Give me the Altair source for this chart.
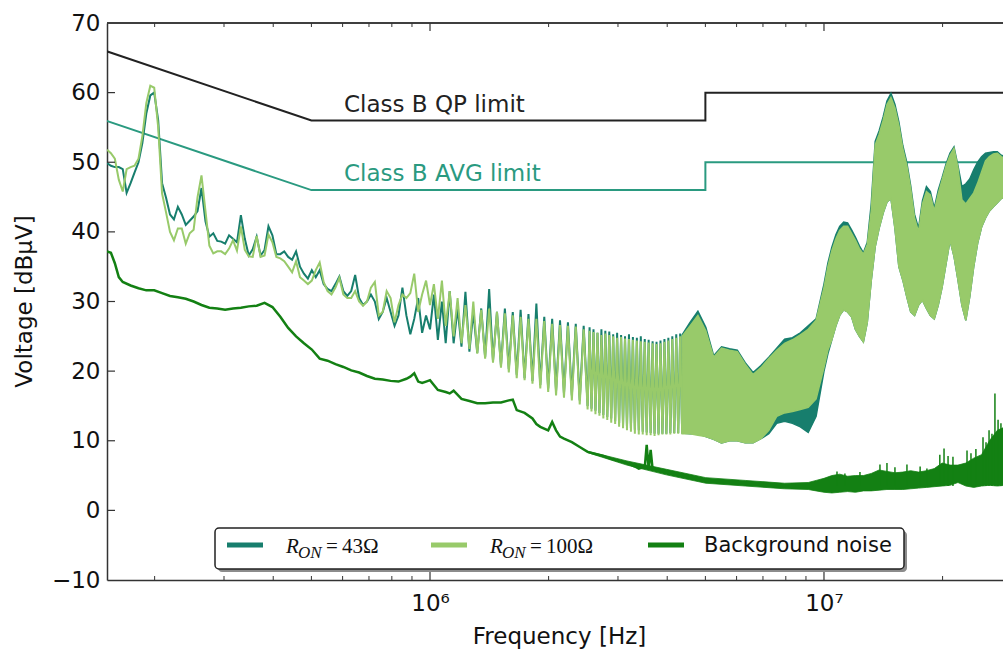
import altair as alt
import pandas as pd

# ---------------- data (frequencies in MHz, levels in dBuV) ----------------
# 0.15 .. 1 MHz
freq_lo = [0.1514, 0.1549, 0.1585, 0.1622, 0.1660, 0.1698, 0.1738, 0.1778, 0.1820, 0.1862,
           0.1905, 0.1950, 0.1995, 0.2042, 0.2089, 0.2138, 0.2188, 0.2239, 0.2291, 0.2344,
           0.2399, 0.2455, 0.2512, 0.2570, 0.2630, 0.2692, 0.2754, 0.2818, 0.2884, 0.2951,
           0.3020, 0.3090, 0.3162, 0.3236, 0.3311, 0.3388, 0.3467, 0.3548, 0.3631, 0.3715,
           0.3802, 0.3890, 0.3981, 0.4074, 0.4169, 0.4266, 0.4365, 0.4467, 0.4571, 0.4677,
           0.4786, 0.4898, 0.5012, 0.5129, 0.5248, 0.5370, 0.5495, 0.5623, 0.5754, 0.5888,
           0.6026, 0.6166, 0.6310, 0.6457, 0.6607, 0.6761, 0.6918, 0.7079, 0.7244, 0.7413,
           0.7586, 0.7762, 0.7943, 0.8128, 0.8318, 0.8511, 0.8710, 0.8913, 0.9120, 0.9333,
           0.9550, 0.9772, 1.000]
r43_lo = [49.9, 49.5, 49.3, 49.3, 49.0, 45.6, 47.0, 48.5, 50.0, 52.8,
          57.0, 59.6, 60.0, 56.0, 47.0, 44.9, 42.5, 41.8, 43.6, 42.5,
          41.0, 41.6, 42.2, 43.0, 46.3, 41.5, 39.3, 39.8, 38.7, 38.6,
          38.3, 39.5, 39.0, 38.5, 42.4, 39.0, 36.6, 37.5, 39.3, 36.6,
          37.4, 40.8, 39.5, 36.8, 36.8, 37.2, 36.4, 36.0, 37.2, 35.0,
          34.0, 33.3, 34.5, 33.5, 34.5, 32.5, 31.8, 31.5, 32.5, 33.6,
          31.5, 30.8, 31.5, 33.8, 30.5, 29.5, 30.0, 31.0, 30.0, 27.5,
          28.5, 30.5, 28.5, 26.5, 28.0, 32.0, 28.0, 25.3, 27.5, 30.5,
          25.5, 28.0, 26.0]
r100_lo = [51.8, 51.3, 50.5, 47.5, 45.8, 49.0, 49.3, 49.5, 50.5, 53.8,
           58.5, 61.0, 60.7, 55.0, 45.5, 42.8, 40.0, 38.8, 40.5, 40.5,
           38.3, 39.8, 40.3, 45.0, 48.1, 43.0, 38.0, 36.9, 37.2, 37.2,
           36.8, 37.6, 38.8, 37.3, 40.8, 37.4, 36.5, 36.4, 39.4, 36.4,
           36.6, 39.6, 38.5, 36.4, 36.2, 35.8, 35.0, 34.2, 35.8, 33.5,
           33.0, 32.5, 33.0, 34.5, 35.6, 32.8, 31.5, 31.0, 32.0, 33.4,
           31.0, 30.5, 30.5, 31.5, 30.0, 29.4, 30.0, 32.0, 32.8, 28.0,
           28.5, 31.5, 30.5, 27.0, 29.5, 31.0, 30.5, 31.2, 34.0, 28.5,
           31.0, 33.0, 29.5]

# 1 .. 4.4 MHz : oscillating part (peaks and troughs)
freq_osc = [1.023, 1.047, 1.072, 1.096, 1.122, 1.148, 1.175, 1.202, 1.230, 1.259,
            1.288, 1.318, 1.349, 1.380, 1.413, 1.445, 1.479, 1.514, 1.549, 1.585,
            1.622, 1.660, 1.698, 1.738, 1.778, 1.820, 1.862, 1.905, 1.950, 1.995,
            2.042, 2.089, 2.138, 2.188, 2.239, 2.291, 2.344, 2.399, 2.455, 2.512,
            2.541, 2.570, 2.600, 2.630, 2.661, 2.692, 2.723, 2.754, 2.786, 2.818,
            2.851, 2.884, 2.917, 2.951, 2.985, 3.020, 3.055, 3.090, 3.126, 3.162,
            3.199, 3.236, 3.273, 3.311, 3.350, 3.388, 3.428, 3.467, 3.508, 3.548,
            3.589, 3.631, 3.673, 3.715, 3.758, 3.802, 3.846, 3.890, 3.936, 3.981,
            4.027, 4.074, 4.121, 4.169, 4.217, 4.266, 4.315, 4.365]
r43_osc = [31.0, 24.5, 30.0, 24.0, 31.5, 24.0, 29.0, 23.5, 31.4, 22.8,
           28.5, 22.6, 29.0, 22.0, 31.8, 21.5, 28.5, 20.8, 29.0, 20.3,
           28.5, 19.5, 28.8, 19.0, 28.2, 18.6, 29.7, 18.0, 27.8, 17.5,
           27.5, 17.2, 27.3, 16.8, 27.0, 16.5, 26.8, 15.8, 26.5, 15.0,
           26.3, 14.6, 26.0, 14.3, 25.5, 14.0, 26.0, 13.7, 25.8, 13.4,
           25.7, 13.2, 25.3, 12.8, 25.5, 12.5, 25.2, 12.3, 25.0, 12.0,
           25.3, 11.8, 24.9, 11.6, 24.8, 11.5, 25.0, 11.3, 24.6, 11.2,
           24.5, 11.1, 24.3, 11.0, 24.2, 11.0, 24.4, 11.0, 24.6, 11.0,
           24.8, 11.1, 25.0, 11.1, 25.3, 11.1, 25.4, 11.1]
r100_osc = [32.5, 27.5, 33.0, 26.5, 31.5, 25.0, 30.5, 24.0, 29.5, 23.2,
            30.0, 22.5, 28.8, 21.8, 29.0, 21.2, 28.5, 20.5, 28.3, 19.8,
            28.0, 19.0, 27.8, 18.7, 27.5, 18.2, 27.5, 17.5, 27.2, 17.0,
            26.8, 16.5, 26.6, 16.2, 26.5, 15.8, 26.4, 15.2, 26.0, 14.5,
            25.8, 14.2, 25.6, 13.8, 25.5, 13.6, 25.2, 13.2, 25.4, 13.0,
            25.2, 12.6, 25.0, 12.4, 24.8, 12.0, 24.9, 11.8, 24.7, 11.5,
            24.6, 11.3, 24.5, 11.0, 24.4, 10.9, 24.3, 10.9, 24.2, 10.8,
            24.1, 10.8, 24.0, 10.7, 23.9, 10.8, 24.0, 10.9, 24.2, 10.9,
            24.4, 10.9, 24.6, 11.0, 24.8, 11.0, 25.0, 11.0]

# 4.4 .. 29 MHz : dense part, upper and lower envelope
freq_env = [4.365, 4.571, 4.786, 5.012, 5.248, 5.495, 5.754, 6.026, 6.310, 6.607,
            6.918, 7.244, 7.586, 7.943, 8.318, 8.710, 9.120, 9.550,
            10.00, 10.23, 10.47, 10.72, 10.96, 11.22, 11.48, 11.75, 12.02, 12.30,
            12.59, 12.88, 13.18, 13.49, 13.80, 14.13, 14.45, 14.79, 15.14, 15.49,
            15.85, 16.22, 16.60, 16.98, 17.38, 17.78, 18.20, 18.62, 19.05, 19.50,
            19.95, 20.42, 20.89, 21.38, 21.88, 22.39, 22.91, 23.44, 23.99, 24.55,
            25.12, 25.70, 26.30, 26.92, 27.54, 28.18, 28.84]
r43_hi = [25.2, 27.0, 28.6, 26.3, 22.2, 23.5, 23.2, 23.0, 21.2, 19.8,
          20.8, 22.0, 23.3, 24.6, 24.8, 25.5, 26.5, 27.5,
          32.5, 35.5, 37.8, 39.6, 40.8, 41.4, 41.3, 40.3, 39.2, 38.0,
          37.0, 38.5, 44.0, 53.0, 54.5, 56.5, 58.8, 59.9, 58.3, 55.8,
          52.4, 50.0, 46.6, 42.5, 40.5, 44.5, 46.5, 45.8, 43.4, 46.0,
          47.8, 49.8, 51.3, 52.2, 49.5, 46.5, 46.9, 47.6, 48.9, 50.0,
          50.8, 51.3, 51.4, 51.5, 51.5, 51.0, 50.8]
r43_lo_env = [11.1, 11.0, 11.0, 10.6, 10.2, 9.7, 10.0, 10.0, 9.7, 9.7,
              10.3, 11.0, 12.5, 12.8, 12.5, 12.0, 11.2, 13.5,
              20.0, 22.5, 24.5, 26.5, 28.0, 28.8, 28.5, 27.8, 26.0, 25.0,
              24.2, 27.0, 33.0, 37.9, 40.5, 42.7, 44.3, 44.8, 40.5, 35.0,
              33.1, 30.7, 28.5, 28.0, 29.5, 30.2, 29.0, 28.0, 27.5, 29.5,
              32.1, 35.5, 38.8, 36.5, 33.1, 29.5, 27.3, 30.7, 35.0, 38.4,
              40.7, 42.0, 43.0, 43.6, 44.2, 44.8, 45.0]
r100_hi = [25.0, 26.5, 28.0, 25.8, 22.0, 23.3, 23.0, 22.8, 21.0, 19.5,
           20.5, 21.8, 23.0, 24.0, 24.5, 25.2, 26.0, 27.3,
           32.0, 35.0, 37.3, 39.0, 40.2, 40.8, 40.8, 39.8, 38.8, 37.6,
           36.8, 38.2, 43.0, 52.5, 54.0, 56.0, 58.3, 59.3, 57.8, 55.3,
           52.0, 49.6, 46.2, 42.0, 40.0, 44.0, 45.8, 45.3, 43.0, 45.5,
           47.5, 49.5, 51.0, 52.0, 49.2, 44.6, 44.0, 44.8, 45.6, 47.0,
           48.6, 50.2, 50.8, 51.2, 51.3, 50.8, 50.5]
r100_lo_env = [11.0, 11.0, 10.8, 10.6, 10.2, 9.7, 10.0, 10.0, 9.7, 9.7,
               10.3, 11.5, 13.5, 14.0, 14.2, 14.5, 14.8, 16.0,
               20.5, 23.0, 24.5, 26.5, 28.0, 28.8, 28.5, 27.8, 26.0, 25.0,
               24.2, 27.0, 33.0, 37.9, 40.5, 42.7, 44.3, 44.8, 40.5, 35.0,
               33.1, 30.7, 28.5, 28.0, 29.5, 30.2, 29.0, 28.0, 27.5, 29.5,
               32.1, 35.5, 38.8, 36.5, 33.1, 29.5, 27.3, 30.7, 35.0, 38.4,
               40.7, 42.0, 43.0, 43.6, 44.2, 44.8, 45.0]

# background noise
bg_freq = [0.1514, 0.1549, 0.1585, 0.1622, 0.1660, 0.1738, 0.1820, 0.1905, 0.1995, 0.2089,
           0.2188, 0.2291, 0.2399, 0.2512, 0.2630, 0.2754, 0.2884, 0.3020, 0.3162, 0.3311,
           0.3467, 0.3631, 0.3802, 0.3981, 0.4169, 0.4365, 0.4571, 0.4786, 0.5012, 0.5248,
           0.5495, 0.5754, 0.6026, 0.6310, 0.6607, 0.6918, 0.7244, 0.7586, 0.7943, 0.8318,
           0.8710, 0.8913, 0.9120, 0.9333, 0.9550, 0.9772, 1.000, 1.047, 1.096, 1.122,
           1.148, 1.202, 1.259, 1.318, 1.380, 1.445, 1.514, 1.585, 1.622, 1.660,
           1.738, 1.820, 1.862, 1.905, 1.995, 2.042, 2.089, 2.138, 2.188, 2.291,
           2.399, 2.512, 2.630, 2.754, 2.884, 3.020, 3.162, 3.311, 3.388, 3.467,
           3.508, 3.548, 3.589, 3.631, 3.673, 3.802, 3.981, 4.169, 4.365, 4.571,
           4.786, 5.012, 5.248, 5.495, 5.754, 6.026, 6.310, 6.607, 6.918, 7.244,
           7.586, 7.943, 8.318, 8.710, 9.120]
bg_db = [37.2, 37.0, 35.5, 33.5, 32.8, 32.3, 31.9, 31.6, 31.6, 31.2,
         30.8, 30.6, 30.4, 30.0, 29.5, 29.1, 29.0, 28.8, 29.0, 29.1,
         29.3, 29.4, 29.8, 29.2, 27.8, 26.2, 25.0, 24.0, 23.1, 21.8,
         21.5, 21.0, 20.6, 20.1, 19.8, 19.3, 18.9, 18.8, 18.6, 18.5,
         18.9, 19.2, 19.7, 18.5, 18.3, 18.5, 18.7, 17.3, 17.0, 16.8,
         17.2, 16.0, 15.7, 15.4, 15.4, 15.5, 15.5, 15.8, 15.9, 14.4,
         14.0, 13.2, 12.4, 12.0, 11.5, 12.7, 11.5, 10.6, 10.3, 9.8,
         9.1, 8.4, 8.1, 7.8, 7.4, 7.1, 6.8, 6.3, 6.0, 6.2,
         6.1, 9.4, 6.0, 8.7, 5.9, 5.8, 5.5, 5.3, 5.1, 4.9,
         4.6, 4.3, 4.1, 4.1, 4.1, 4.0, 3.9, 3.9, 3.8, 3.7,
         3.6, 3.5, 3.4, 3.4, 3.4]
# noisy thickness of the background trace (lower / upper edge)
bg_env_freq = [2.512, 3.162, 3.981, 5.012, 6.310, 7.943,
               9.120, 9.550, 10.00, 10.47, 10.96, 11.48, 12.02, 12.59, 13.18, 13.80,
               14.45, 15.14, 15.85, 16.60, 17.38, 18.20, 19.05, 19.95, 20.89, 21.88,
               22.91, 23.99, 25.12, 26.30, 27.54, 28.84]
bg_env_lo = [8.3, 6.5, 5.1, 3.9, 3.5, 3.1,
             3.0, 2.8, 2.6, 2.5, 2.6, 2.7, 2.6, 2.8, 2.8, 2.9,
             3.0, 3.0, 3.0, 3.1, 3.2, 3.3, 3.4, 3.5, 3.6, 4.0,
             3.5, 3.3, 3.5, 3.6, 3.5, 3.6]
bg_env_hi = [8.5, 7.1, 5.9, 4.7, 4.3, 3.9,
             4.0, 4.3, 4.6, 5.0, 5.2, 4.9, 5.0, 5.0, 5.3, 5.8,
             5.6, 5.4, 5.5, 5.7, 5.5, 5.7, 6.0, 6.8, 6.5, 6.5,
             6.8, 7.5, 8.0, 10.0, 11.5, 12.0]
spike_freq = [10.79, 11.30, 12.34, 13.87, 14.45, 15.14, 16.24, 17.54, 18.25, 19.68,
              20.17, 20.65, 21.25, 23.07, 23.61, 24.30, 25.33, 25.78, 26.24, 26.69,
              27.16, 27.66, 28.13]
spike_top = [5.6, 5.3, 5.5, 6.6, 6.8, 6.2, 6.6, 6.3, 6.0, 8.0,
             8.9, 7.8, 7.7, 8.6, 8.2, 8.8, 10.5, 9.8, 11.5, 11.0,
             16.8, 13.0, 12.5]
spike_base = [3.5] * len(spike_freq)

# CISPR 22 class B limits
lim_freq = [0.15, 0.5, 5.0, 5.0, 30.0]
qp_limit = [66, 56, 56, 60, 60]
avg_limit = [56, 46, 46, 50, 50]

y_ticks = [-10, 0, 10, 20, 30, 40, 50, 60, 70]
x_major = [1e6, 1e7]
x_minor = [2e5, 3e5, 4e5, 5e5, 6e5, 7e5, 8e5, 9e5,
           2e6, 3e6, 4e6, 5e6, 6e6, 7e6, 8e6, 9e6, 2e7]

for a, b in [(freq_lo, r43_lo), (freq_lo, r100_lo), (freq_osc, r43_osc), (freq_osc, r100_osc),
             (freq_env, r43_hi), (freq_env, r43_lo_env), (freq_env, r100_hi), (freq_env, r100_lo_env),
             (bg_freq, bg_db), (bg_env_freq, bg_env_lo), (bg_env_freq, bg_env_hi), (spike_freq, spike_top)]:
    assert len(a) == len(b), (len(a), len(b))

# ---------------- styling ----------------
C43 = "#177e6d"
C100 = "#98ca6a"
CBG = "#138013"
CAVG = "#2a9a80"
CQP = "#222222"
AX = "#333333"
FONT = "DejaVu Sans"
W, H = 896, 557

xs = alt.Scale(type="log", domain=[151400, 28470000], nice=False)
ys = alt.Scale(domain=[-10, 70], nice=False, zero=False)
xaxis = alt.Axis(values=x_major, labelExpr="datum.value < 5000000 ? '10\u2076' : '10\u2077'",
                 tickSize=0, labelPadding=12, labelFontSize=23, labelBaseline="top",
                 domainColor=AX, domainWidth=1.5, grid=False,
                 title="Frequency [Hz]", titleFontSize=23, titleFontWeight="normal",
                 titleX=452, titleY=63, titleBaseline="alphabetic", titleAlign="center")
yaxis = alt.Axis(values=y_ticks,
                 labelExpr="datum.value < 0 ? '\u2212' + (-datum.value) : '' + datum.value",
                 tickSize=0, labelPadding=7, labelFontSize=23, labelBaseline="middle",
                 domainColor=AX, domainWidth=1.5, grid=False,
                 title="Voltage [dB\u03bcV]", titleFontSize=23, titleFontWeight="normal",
                 titleAngle=270, titleX=-76, titleY=278, titleBaseline="alphabetic",
                 titleAlign="center")


def X(field="f"):
    return alt.X(f"{field}:Q", scale=xs, axis=xaxis)


def Y(field="v"):
    return alt.Y(f"{field}:Q", scale=ys, axis=yaxis)


def hz(lst):
    return [v * 1e6 for v in lst]


main43 = pd.DataFrame({"f": hz(freq_lo + freq_osc), "v": r43_lo + r43_osc})
main100 = pd.DataFrame({"f": hz(freq_lo + freq_osc), "v": r100_lo + r100_osc})
main43["i"] = range(len(main43))
main100["i"] = range(len(main100))
env43 = pd.DataFrame({"f": hz(freq_env), "hi": r43_hi, "lo": r43_lo_env})
env100 = pd.DataFrame({"f": hz(freq_env), "hi": r100_hi, "lo": r100_lo_env})
bg = pd.DataFrame({"f": hz(bg_freq), "v": bg_db})
bgenv = pd.DataFrame({"f": hz(bg_env_freq), "hi": bg_env_hi, "lo": bg_env_lo})
spikes = pd.DataFrame({"f": hz(spike_freq), "hi": spike_top, "lo": spike_base})
lim = pd.DataFrame({"f": hz(lim_freq), "qp": qp_limit, "avg": avg_limit, "i": range(len(lim_freq))})

layers = []
# limit lines (underneath)
layers.append(alt.Chart(lim).mark_line(color=CQP, strokeWidth=2, clip=True)
              .encode(x=X(), y=Y("qp"), order="i:Q"))
layers.append(alt.Chart(lim).mark_line(color=CAVG, strokeWidth=2, clip=True)
              .encode(x=X(), y=Y("avg"), order="i:Q"))
# R_ON = 43 ohm
layers.append(alt.Chart(env43).mark_area(color=C43, stroke=C43, strokeWidth=1.5, clip=True)
              .encode(x=X(), y=Y("hi"), y2=alt.Y2("lo")))
layers.append(alt.Chart(main43).mark_line(color=C43, strokeWidth=2, clip=True)
              .encode(x=X(), y=Y(), order="i:Q"))
# R_ON = 100 ohm
layers.append(alt.Chart(env100).mark_area(color=C100, stroke=C100, strokeWidth=1.5, clip=True)
              .encode(x=X(), y=Y("hi"), y2=alt.Y2("lo")))
layers.append(alt.Chart(main100).mark_line(color=C100, strokeWidth=2, clip=True)
              .encode(x=X(), y=Y(), order="i:Q"))
# background noise
layers.append(alt.Chart(bg).mark_line(color=CBG, strokeWidth=2.5, clip=True)
              .encode(x=X(), y=Y()))
layers.append(alt.Chart(bgenv).mark_area(color=CBG, stroke=CBG, strokeWidth=0.8, clip=True)
              .encode(x=X(), y=Y("hi"), y2=alt.Y2("lo")))
layers.append(alt.Chart(spikes).mark_rule(color=CBG, strokeWidth=1.5, clip=True)
              .encode(x=X(), y=Y("hi"), y2=alt.Y2("lo")))

# limit annotations
lab = pd.DataFrame({"f": [0.605e6, 0.605e6], "v": [57.2, 47.3],
                    "t": ["Class B QP limit", "Class B AVG limit"], "c": [CQP, CAVG]})
layers.append(alt.Chart(lab).mark_text(align="left", baseline="alphabetic", font=FONT, fontSize=23)
              .encode(x=X(), y=Y(), text="t:N", color=alt.Color("c:N", scale=None)))

# inward ticks + top frame
xmaj = pd.DataFrame({"f": x_major})
xmin = pd.DataFrame({"f": x_minor})
yt = pd.DataFrame({"v": y_ticks[1:-1]})
layers.append(alt.Chart(xmaj).mark_rule(color=AX, strokeWidth=1.2)
              .encode(x=X(), y=alt.value(H), y2=alt.value(H - 8)))
layers.append(alt.Chart(xmaj).mark_rule(color=AX, strokeWidth=1.2)
              .encode(x=X(), y=alt.value(0), y2=alt.value(8)))
layers.append(alt.Chart(xmin).mark_rule(color=AX, strokeWidth=1)
              .encode(x=X(), y=alt.value(H), y2=alt.value(H - 4)))
layers.append(alt.Chart(xmin).mark_rule(color=AX, strokeWidth=1)
              .encode(x=X(), y=alt.value(0), y2=alt.value(4)))
layers.append(alt.Chart(yt).mark_rule(color=AX, strokeWidth=1.2)
              .encode(y=Y(), x=alt.value(0), x2=alt.value(8)))
layers.append(alt.Chart(xmaj).mark_rule(color=AX, strokeWidth=1.5)
              .encode(x=alt.value(0), x2=alt.value(W), y=alt.value(0)))

# legend (drawn by hand to get the math-style labels)
one = alt.Data(values=[{"k": 1}])
layers.append(alt.Chart(one).mark_rect(color="#000", opacity=0.45, cornerRadius=4)
              .encode(x=alt.value(111), x2=alt.value(800), y=alt.value(508), y2=alt.value(549)))
layers.append(alt.Chart(one).mark_rect(fill="white", stroke="#222", strokeWidth=1.5, cornerRadius=4)
              .encode(x=alt.value(108), x2=alt.value(797), y=alt.value(505), y2=alt.value(546)))
for x0, col in [(120, C43), (324, C100), (541, CBG)]:
    layers.append(alt.Chart(one).mark_rule(color=col, strokeWidth=5)
                  .encode(x=alt.value(x0), x2=alt.value(x0 + 36), y=alt.value(522)))
SERIF = "Liberation Serif"
for xr, num in [(179, "43\u03a9"), (383, "100\u03a9")]:
    layers.append(alt.Chart(one).mark_text(align="left", baseline="alphabetic", font=SERIF,
                                           fontSize=21, fontStyle="italic", color="#111")
                  .encode(x=alt.value(xr), y=alt.value(530), text=alt.value("R")))
    layers.append(alt.Chart(one).mark_text(align="left", baseline="alphabetic", font=SERIF,
                                           fontSize=17, fontStyle="italic", color="#111")
                  .encode(x=alt.value(xr + 12), y=alt.value(535), text=alt.value("ON")))
    layers.append(alt.Chart(one).mark_text(align="left", baseline="alphabetic", font=SERIF,
                                           fontSize=21, color="#111")
                  .encode(x=alt.value(xr + 40), y=alt.value(530), text=alt.value("=")))
    layers.append(alt.Chart(one).mark_text(align="left", baseline="alphabetic", font=SERIF,
                                           fontSize=21, color="#111")
                  .encode(x=alt.value(xr + 56), y=alt.value(530), text=alt.value(num)))
layers.append(alt.Chart(one).mark_text(align="left", baseline="alphabetic", font=FONT,
                                       fontSize=21, color="#111")
              .encode(x=alt.value(597), y=alt.value(529), text=alt.value("Background noise")))

chart = (alt.layer(*layers)
         .properties(width=W, height=H,
                     padding={"left": 107, "top": 23, "right": 0, "bottom": 72},
                     autosize=alt.AutoSizeParams(type="none"))
         .configure_view(stroke=None)
         .configure_axis(labelFont=FONT, titleFont=FONT, labelColor="#111", titleColor="#111"))

chart.save("out.html", embed_options={"renderer": "svg", "actions": False})
